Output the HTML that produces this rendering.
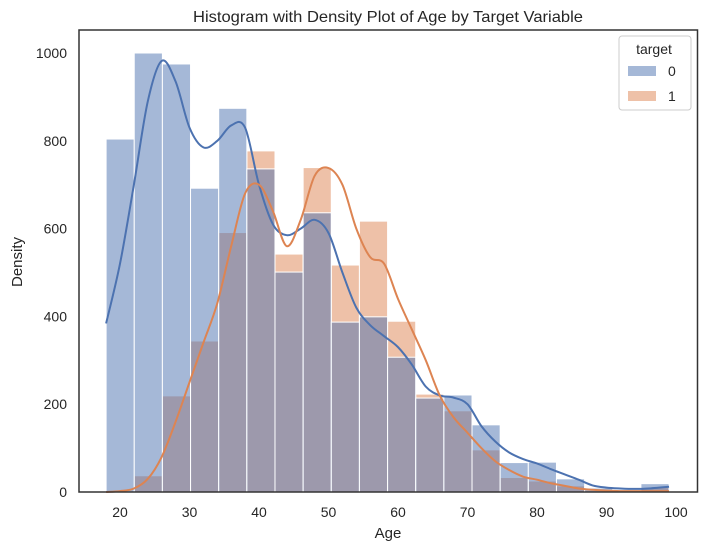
<!DOCTYPE html>
<html><head><meta charset="utf-8"><style>
body{margin:0;background:#fff;font-family:"Liberation Sans",sans-serif}
svg text{font-family:"Liberation Sans",sans-serif;fill:#262626}
</style></head><body>
<svg id="chart" width="707" height="550">
<text x="388" y="22" font-size="16" text-anchor="middle" textLength="390" lengthAdjust="spacingAndGlyphs">Histogram with Density Plot of Age by Target Variable</text>
<g id="bars"></g><g id="lines"></g>
<rect x="79" y="30" width="618.5" height="462" fill="none" stroke="#333" stroke-width="1.5"/>
<g id="ticks"></g>
<text x="388" y="538" font-size="15" text-anchor="middle">Age</text>
<text transform="translate(22,262) rotate(-90)" font-size="15" text-anchor="middle">Density</text>
<g>
<rect x="619" y="36" width="72" height="74" rx="3" fill="#fff" stroke="#ccc"/>
<text x="654" y="54" font-size="14" text-anchor="middle">target</text>
<rect x="628" y="66" width="28" height="10" fill="#4c72b0" fill-opacity="0.5"/>
<text x="668" y="76" font-size="14">0</text>
<rect x="628" y="91" width="28" height="10" fill="#dd8452" fill-opacity="0.5"/>
<text x="668" y="101" font-size="14">1</text>
</g>
</svg>
<script>
const binStart=18, binWidth=4.05;
const blueCounts=[804,1000,975,692,874,736,501,636,387,399,307,214,221,153,67,68,30,9,2,19];
const orangeCounts=[2,37,219,344,591,777,542,739,517,617,389,223,185,96,33,25,14,3,1,10];
const kdeAges=[18,20,22,24,26,28,30,32,34,36,38,40,42,44,46,48,50,52,54,56,58,60,62,64,66,68,70,72,74,76,78,80,82,84,86,88,90,92,94,96,99];
const blueKde=[384,520,700,890,982,935,830,785,800,835,830,700,610,585,600,620,590,500,420,380,355,330,290,240,220,215,200,150,115,90,75,65,52,40,28,15,10,8,7,8,12];
const orangeKde=[0,2,8,30,80,160,250,340,430,560,680,700,640,560,620,720,738,700,600,535,520,440,370,300,220,170,135,100,70,50,35,28,20,14,8,5,3,2,2,2,2];
const xTicks=[20,30,40,50,60,70,80,90,100];
const yTicks=[0,200,400,600,800,1000];
const X=a=>120+(a-20)*6.95, Y=v=>492-v*0.439;
const NS="http://www.w3.org/2000/svg";
const bars=document.getElementById('bars'),lines=document.getElementById('lines'),ticks=document.getElementById('ticks');
function mk(tag,attrs,parent){const e=document.createElementNS(NS,tag);for(const k in attrs)e.setAttribute(k,attrs[k]);parent.appendChild(e);return e;}
[[orangeCounts,'#dd8452','orange'],[blueCounts,'#4c72b0','blue']].forEach(([arr,col,nm])=>{
arr.forEach((v,i)=>{const x0=X(binStart+i*binWidth),x1=X(binStart+(i+1)*binWidth);
const r=mk('rect',{x:x0,y:Y(v),width:x1-x0,height:492-Y(v),fill:col,'fill-opacity':0.5,stroke:'#fff','stroke-width':1},bars);

});});
function path(vals){const p=kdeAges.map((a,i)=>[X(a),Y(vals[i])]);let d='M'+p[0][0]+','+p[0][1];
for(let i=0;i<p.length-1;i++){const p0=p[i-1]||p[i],p1=p[i],p2=p[i+1],p3=p[i+2]||p2;
d+=` C${p1[0]+(p2[0]-p0[0])/6},${p1[1]+(p2[1]-p0[1])/6} ${p2[0]-(p3[0]-p1[0])/6},${p2[1]-(p3[1]-p1[1])/6} ${p2[0]},${p2[1]}`;}return d;}
const l0=mk('path',{d:path(blueKde),fill:'none',stroke:'#4c72b0','stroke-width':2},lines);


const l1=mk('path',{d:path(orangeKde),fill:'none',stroke:'#dd8452','stroke-width':2},lines);


xTicks.forEach(t=>{const e=mk('text',{x:X(t),y:517,'font-size':14,'text-anchor':'middle'},ticks);e.textContent=t;

});
yTicks.forEach(t=>{const e=mk('text',{x:67,y:Y(t)+5,'font-size':14,'text-anchor':'end'},ticks);e.textContent=t;

});
</script>
</body></html>
